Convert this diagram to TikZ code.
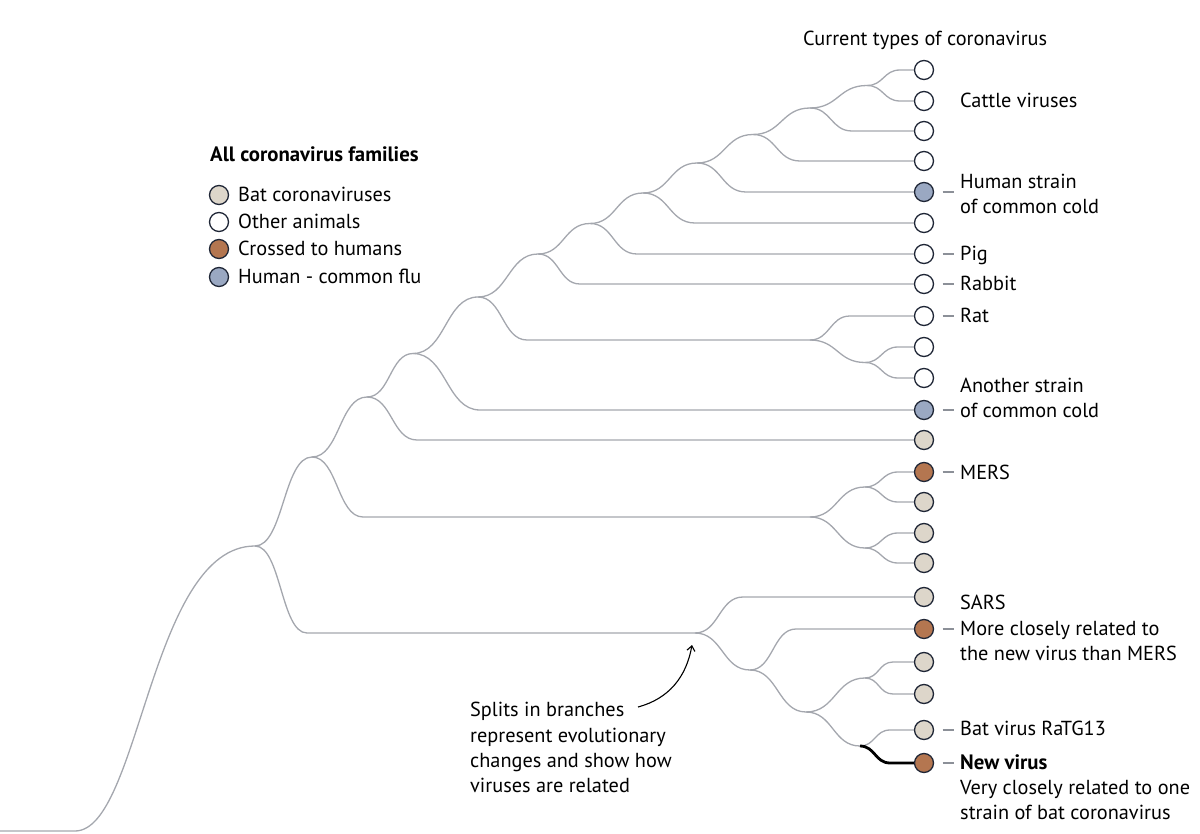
\documentclass[tikz,border=0pt]{standalone}
\usepackage{fontspec}
\setmainfont{PT Sans}
\usetikzlibrary{calc,arrows.meta}
\definecolor{branchgrey}{HTML}{A4A7AE}
\definecolor{outline}{HTML}{1F2636}
\definecolor{batfill}{HTML}{DDD6CA}
\definecolor{humfill}{HTML}{9AA8C2}
\definecolor{crossfill}{HTML}{B47650}
\definecolor{dashgrey}{HTML}{8C9098}
\tikzset{
  branch/.style={draw=branchgrey, line width=1.3pt},
  newbranch/.style={draw=black, line width=2.8pt},
  sig/.style={to path={let \p1=(\tikztostart), \p2=(\tikztotarget) in .. controls ({0.5*\x1+0.5*\x2},\y1) and ({0.5*\x1+0.5*\x2},\y2) .. (\tikztotarget)}},
  leaf/.style={circle, draw=outline, line width=1.3pt, minimum size=19pt, inner sep=0pt},
  bat/.style={leaf, fill=batfill},
  oth/.style={leaf, fill=white},
  cross/.style={leaf, fill=crossfill},
  hum/.style={leaf, fill=humfill},
  lbl/.style={anchor=base west, inner sep=0pt, font=\fontsize{20.3}{25}\selectfont, text=black},
  boldlbl/.style={lbl, font=\fontsize{20.8}{25}\selectfont\bfseries},
  tick/.style={draw=dashgrey, line width=1.2pt},
  annot/.style={draw=black, line width=1.1pt, -{Straight Barb[length=5pt,width=8pt]}},
}
\newcommand\brto[3]{\draw[branch] (#1) to[sig] ($(#1 |- #2)+(#3,0)$) -- (#2);}
\newcommand\brnode[2]{\draw[branch] (#1) to[sig] (#2);}
\newcommand\tickat[1]{\draw[tick] ([xshift=8.5pt]#1.east) -- ++(11,0);}
\begin{document}
\begin{tikzpicture}[x=1pt,y=-1pt]
\useasboundingbox (0,0) rectangle (1200,834);
% leaves
\node[oth] (l1) at (924,70) {};
\node[oth] (l2) at (924,101) {};
\node[oth] (l3) at (924,131) {};
\node[oth] (l4) at (924,161) {};
\node[hum] (l5) at (924,192) {};
\node[oth] (l6) at (924,223) {};
\node[oth] (l7) at (924,254) {};
\node[oth] (l8) at (924,284) {};
\node[oth] (l9) at (924,316) {};
\node[oth] (l10) at (924,347) {};
\node[oth] (l11) at (924,378) {};
\node[hum] (l12) at (924,410) {};
\node[bat] (l13) at (924,440) {};
\node[cross] (l14) at (924,472) {};
\node[bat] (l15) at (924,502) {};
\node[bat] (l16) at (924,533) {};
\node[bat] (l17) at (924,563) {};
\node[bat] (l18) at (924,597) {};
\node[cross] (l19) at (924,629) {};
\node[bat] (l20) at (924,662) {};
\node[bat] (l21) at (924,694) {};
\node[bat] (l22) at (924,730) {};
\node[cross] (l23) at (924,763) {};
% internal nodes
\coordinate (nA) at (867,85.5);
\coordinate (nB) at (810,108);
\coordinate (nC) at (753,134.5);
\coordinate (nD) at (697,163);
\coordinate (nE) at (643,193);
\coordinate (nF) at (590,223.5);
\coordinate (nG) at (538,254);
\coordinate (nH) at (478,297);
\coordinate (nR1) at (810,340);
\coordinate (nR2) at (865,362.5);
\coordinate (nI) at (413,353.5);
\coordinate (nJ) at (367,397);
\coordinate (nK) at (312,457);
\coordinate (nM1) at (810,517);
\coordinate (nM2) at (865,487);
\coordinate (nM3) at (865,548);
\coordinate (nL) at (255,546);
\coordinate (nS1) at (695,633);
\coordinate (nS2) at (750,670);
\coordinate (nS3) at (806,712);
\coordinate (nS4) at (865,678);
\coordinate (nS5) at (860,746);
\coordinate (r0) at (0,831);
\coordinate (r1) at (75,831);
% branches
\brto{nA}{l1}{33} \brto{nA}{l2}{33}
\brnode{nB}{nA} \brto{nB}{l3}{42}
\brnode{nC}{nB} \brto{nC}{l4}{47}
\brnode{nD}{nC} \brto{nD}{l5}{49}
\brnode{nE}{nD} \brto{nE}{l6}{52}
\brnode{nF}{nE} \brto{nF}{l7}{47}
\brnode{nG}{nF} \brto{nG}{l8}{42}
\brnode{nH}{nG} \brto{nH}{nR1}{49}
\brto{nR1}{l9}{40} \brnode{nR1}{nR2}
\brto{nR2}{l10}{33} \brto{nR2}{l11}{33}
\brnode{nI}{nH} \brto{nI}{l12}{67}
\brnode{nJ}{nI} \brto{nJ}{l13}{50}
\brnode{nK}{nJ} \brto{nK}{nM1}{51}
\brnode{nM1}{nM2} \brnode{nM1}{nM3}
\brto{nM2}{l14}{33} \brto{nM2}{l15}{33}
\brto{nM3}{l16}{33} \brto{nM3}{l17}{33}
\brnode{nL}{nK} \brto{nL}{nS1}{52}
\brto{nS1}{l18}{48} \brnode{nS1}{nS2}
\brto{nS2}{l19}{46} \brnode{nS2}{nS3}
\brnode{nS3}{nS4} \brnode{nS3}{nS5}
\brto{nS4}{l20}{28} \brto{nS4}{l21}{28}
\brto{nS5}{l22}{30}
\draw[newbranch] (nS5) to[sig] ($(nS5 |- l23)+(30,0)$) -- (l23);
\draw[branch] (r0) -- (r1) .. controls (140,831) and (150,546) .. (nL);
% label ticks
\tickat{l5} \tickat{l7} \tickat{l8} \tickat{l9} \tickat{l12}
\tickat{l14} \tickat{l19} \tickat{l22} \tickat{l23}
% labels
\node[lbl] (tTitle) at (803,45.5) {Current types of coronavirus};
\node[lbl] (tCattle) at (960,107.5) {Cattle viruses};
\node[lbl] (tHum1) at (960,188.5) {Human strain};
\node[lbl] (tHum2) at (960,213.5) {of common cold};
\node[lbl] (tPig) at (960,260.5) {Pig};
\node[lbl] (tRabbit) at (960,290.5) {Rabbit};
\node[lbl] (tRat) at (960,322.5) {Rat};
\node[lbl] (tAno1) at (960,392.5) {Another strain};
\node[lbl] (tAno2) at (960,417.5) {of common cold};
\node[lbl] (tMers) at (960,479) {MERS};
\node[lbl] (tSars) at (960,609) {SARS};
\node[lbl] (tMore1) at (960,635.5) {More closely related to};
\node[lbl] (tMore2) at (960,660.5) {the new virus than MERS};
\node[lbl] (tBat) at (960,735.5) {Bat virus RaTG13};
\node[boldlbl] (tNew) at (960,769.5) {New virus};
\node[lbl] (tVery1) at (960,794.5) {Very closely related to one};
\node[lbl] (tVery2) at (960,819.5) {strain of bat coronavirus};
% legend
\node[boldlbl] (gHead) at (210,161.5) {All coronavirus families};
\node[bat] (g1) at (219,195) {};
\node[oth] (g2) at (219,222) {};
\node[cross] (g3) at (219,249) {};
\node[hum] (g4) at (219,277) {};
\node[lbl] (gt1) at (238,201.5) {Bat coronaviruses};
\node[lbl] (gt2) at (238,228.5) {Other animals};
\node[lbl] (gt3) at (238,255.5) {Crossed to humans};
\node[lbl] (gt4) at (238,283.5) {Human - common flu};
% annotation
\node[lbl] (a1) at (470,716.5) {Splits in branches};
\node[lbl] (a2) at (470,742.5) {represent evolutionary};
\node[lbl] (a3) at (470,767.5) {changes and show how};
\node[lbl] (a4) at (470,792.5) {viruses are related};
\coordinate (arrS) at (638,707);
\coordinate (arrE) at (692,645);
\draw[annot] (arrS) to[out=15,in=-100] (arrE);
\end{tikzpicture}
\end{document}
